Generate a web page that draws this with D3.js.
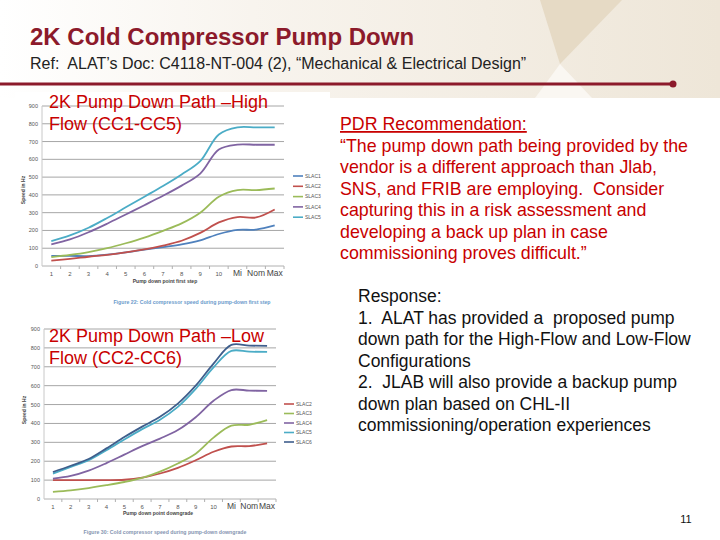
<!DOCTYPE html>
<html>
<head>
<meta charset="utf-8">
<script src="https://cdn.jsdelivr.net/npm/d3@7"></script>
<style>
  html, body { margin: 0; padding: 0; background: #fff; }
  svg { display: block; font-family: "Liberation Sans", Arial, sans-serif; }
  svg text { white-space: pre; }
</style>
</head>
<body>
<div id="slide"></div>
<script>
// Categories on both x axes
const categories = ["1", "2", "3", "4", "5", "6", "7", "8", "9", "10", "Mi", "Nom", "Max"]
const yTicks = [0, 100, 200, 300, 400, 500, 600, 700, 800, 900]

// High flow path (CC1-CC5), speed in Hz
const highNames = ["SLAC1", "SLAC2", "SLAC3", "SLAC4", "SLAC5"]
const highSlac1 = [57, 57, 56, 64, 77, 92, 106, 121, 144, 180, 203, 205, 228]
const highSlac2 = [30, 40, 52, 63, 77, 93, 115, 142, 186, 245, 275, 273, 318]
const highSlac3 = [50, 62, 78, 100, 128, 160, 198, 240, 300, 390, 427, 427, 436]
const highSlac4 = [122, 150, 190, 238, 290, 342, 395, 452, 520, 655, 683, 682, 682]
const highSlac5 = [140, 172, 215, 270, 330, 390, 450, 515, 590, 740, 780, 780, 780]

// Low flow path (CC2-CC6), speed in Hz
const lowNames = ["SLAC2", "SLAC3", "SLAC4", "SLAC5", "SLAC6"]
const lowSlac2 = [100, 100, 100, 100, 102, 113, 135, 165, 205, 250, 278, 280, 295]
const lowSlac3 = [38, 46, 58, 73, 90, 112, 145, 188, 240, 325, 388, 393, 418]
const lowSlac4 = [108, 122, 150, 190, 235, 280, 320, 365, 433, 520, 577, 574, 572]
const lowSlac5 = [134, 170, 205, 258, 315, 370, 420, 488, 583, 697, 784, 780, 779]
const lowSlac6 = [143, 176, 212, 268, 328, 383, 435, 505, 600, 717, 816, 812, 811]

const pdrLines = [
  "\u201CThe pump down path being provided by the",
  "vendor is a different approach than Jlab,",
  "SNS, and FRIB are employing.  Consider",
  "capturing this in a risk assessment and",
  "developing a back up plan in case",
  "commissioning proves difficult.\u201D"
]
const responseLines = [
  "Response:",
  "1.  ALAT has provided a  proposed pump",
  "down path for the High-Flow and Low-Flow",
  "Configurations",
  "2.  JLAB will also provide a backup pump",
  "down plan based on CHL-II",
  "commissioning/operation experiences"
]

const colors = {
  SLAC1: "#4F81BD",
  SLAC2: "#C0504D",
  SLAC3: "#9BBB59",
  SLAC4: "#8064A2",
  SLAC5: "#4BACC6",
  SLAC6: "#3E5E8C"
}
const darkRed = "#8C1A2B"
const brightRed = "#C80000"

const svg = d3.select("#slide").append("svg")
  .attr("width", 720)
  .attr("height", 540)

// Header background
const defs = svg.append("defs")
const grad = defs.append("linearGradient").attr("id", "hdr")
  .attr("x1", "0%").attr("x2", "100%").attr("y1", "0%").attr("y2", "0%")
grad.append("stop").attr("offset", "0%").attr("stop-color", "#ffffff")
grad.append("stop").attr("offset", "35%").attr("stop-color", "#f8f4ee")
grad.append("stop").attr("offset", "100%").attr("stop-color", "#eee6d8")

svg.append("rect").attr("width", 720).attr("height", 98).attr("fill", "url(#hdr)")
svg.append("path").attr("d", "M540,0 L622,0 L560,64 Z").attr("fill", "#e6dac5")
svg.append("path").attr("d", "M560,64 L535,98 L592,98 Z").attr("fill", "#faf7f2")

svg.append("text")
  .attr("x", 30).attr("y", 45)
  .attr("font-size", 24).attr("font-weight", "bold")
  .attr("fill", darkRed)
  .text("2K Cold Compressor Pump Down")

svg.append("text")
  .attr("x", 30).attr("y", 69)
  .attr("font-size", 16)
  .attr("fill", "#222")
  .text("Ref:  ALAT\u2019s Doc: C4118-NT-004 (2), \u201CMechanical & Electrical Design\u201D")

svg.append("line")
  .attr("x1", 0).attr("x2", 673).attr("y1", 84).attr("y2", 84)
  .attr("stroke", darkRed).attr("stroke-width", 3)
svg.append("circle").attr("cx", 673).attr("cy", 84).attr("r", 3.5).attr("fill", darkRed)

// Chart drawing
function drawChart(cfg) {
  const g = svg.append("g")

  g.append("rect")
    .attr("x", cfg.box[0]).attr("y", cfg.box[1])
    .attr("width", cfg.box[2]).attr("height", cfg.box[3])
    .attr("fill", "#fff")

  const x = d3.scaleBand().domain(categories).range([cfg.left, cfg.right])
  const y = d3.scaleLinear().domain([0, 900]).range([cfg.bottom, cfg.top])

  // Gridlines
  g.selectAll("line.grid")
    .data(yTicks.filter((d) => d > 0))
    .enter()
    .append("line")
    .attr("class", "grid")
    .attr("x1", cfg.left).attr("x2", cfg.right)
    .attr("y1", (d) => y(d)).attr("y2", (d) => y(d))
    .attr("stroke", "#a6a6a6").attr("stroke-width", 1)

  // Axes lines
  g.append("line")
    .attr("x1", cfg.left).attr("x2", cfg.right)
    .attr("y1", cfg.bottom).attr("y2", cfg.bottom)
    .attr("stroke", "#b0b0b0")
  g.append("line")
    .attr("x1", cfg.left).attr("x2", cfg.left)
    .attr("y1", cfg.top).attr("y2", cfg.bottom)
    .attr("stroke", "#c8c8c8")

  // Category tick marks between bands
  g.selectAll("line.xt")
    .data(categories)
    .enter()
    .append("line")
    .attr("class", "xt")
    .attr("x1", (d) => x(d) + x.bandwidth()).attr("x2", (d) => x(d) + x.bandwidth())
    .attr("y1", cfg.bottom).attr("y2", cfg.bottom + 3)
    .attr("stroke", "#b0b0b0")

  // Y labels
  g.selectAll("text.yl")
    .data(yTicks)
    .enter()
    .append("text")
    .attr("class", "yl")
    .attr("x", cfg.left - 4)
    .attr("y", (d) => y(d) + 2)
    .attr("text-anchor", "end")
    .attr("font-size", 5.5)
    .attr("fill", "#555")
    .text((d) => d)

  // X labels
  g.selectAll("text.xl")
    .data(categories)
    .enter()
    .append("text")
    .attr("class", "xl")
    .attr("x", (d) => x(d) + x.bandwidth() / 2)
    .attr("y", cfg.bottom + 10)
    .attr("text-anchor", "middle")
    .attr("font-size", (d) => (isNaN(+d) ? 8.5 : 6))
    .attr("fill", (d) => (isNaN(+d) ? "#444" : "#555"))
    .text((d) => d)

  // Series lines
  const line = d3.line()
    .x((d, i) => x(categories[i]) + x.bandwidth() / 2)
    .y((d) => y(d))
    .curve(d3.curveCatmullRom.alpha(0.5))

  cfg.series.forEach((s) => {
    g.append("path")
      .attr("d", line(s.values))
      .attr("fill", "none")
      .attr("stroke", colors[s.name])
      .attr("stroke-width", 1.8)
  })

  // Legend
  cfg.series.forEach((s, i) => {
    const ly = cfg.legend[1] + i * cfg.legend[2]
    g.append("line")
      .attr("x1", cfg.legend[0]).attr("x2", cfg.legend[0] + 10)
      .attr("y1", ly).attr("y2", ly)
      .attr("stroke", colors[s.name]).attr("stroke-width", 1.6)
    g.append("text")
      .attr("x", cfg.legend[0] + 12).attr("y", ly + 1.8)
      .attr("font-size", 5).attr("fill", "#555")
      .text(s.name)
  })

  // Axis titles
  g.append("text")
    .attr("transform", `translate(${cfg.yTitle[0]},${cfg.yTitle[1]}) rotate(-90)`)
    .attr("text-anchor", "middle")
    .attr("font-size", 5).attr("font-weight", "bold").attr("fill", "#444")
    .text("Speed in Hz")
  g.append("text")
    .attr("x", cfg.xTitle[0]).attr("y", cfg.xTitle[1])
    .attr("text-anchor", "middle")
    .attr("font-size", 5).attr("font-weight", "bold").attr("fill", "#444")
    .text(cfg.xLabel)

  // Caption
  g.append("text")
    .attr("x", cfg.caption[0]).attr("y", cfg.caption[1])
    .attr("text-anchor", "middle")
    .attr("font-size", 5.2).attr("font-weight", "bold").attr("fill", cfg.captionColor)
    .text(cfg.captionText)

  // Overlay title
  cfg.title.forEach((t, i) => {
    g.append("text")
      .attr("x", 49).attr("y", cfg.titleY + i * 21.5)
      .attr("font-size", 18).attr("fill", brightRed)
      .text(t)
  })
}

drawChart({
  box: [15, 92, 315, 218],
  left: 42, right: 284, top: 106, bottom: 266,
  series: [
    { name: "SLAC1", values: highSlac1 },
    { name: "SLAC2", values: highSlac2 },
    { name: "SLAC3", values: highSlac3 },
    { name: "SLAC4", values: highSlac4 },
    { name: "SLAC5", values: highSlac5 }
  ],
  legend: [293, 176, 10.3],
  yTitle: [25, 190],
  xTitle: [165, 283],
  xLabel: "Pump down point first step",
  caption: [192, 304],
  captionColor: "#6a9acb",
  captionText: "Figure 22: Cold compressor speed during pump-down first step",
  title: ["2K Pump Down Path \u2013High", "Flow (CC1-CC5)"],
  titleY: 108
})

drawChart({
  box: [15, 318, 315, 222],
  left: 44, right: 276, top: 329, bottom: 499,
  series: [
    { name: "SLAC2", values: lowSlac2 },
    { name: "SLAC3", values: lowSlac3 },
    { name: "SLAC4", values: lowSlac4 },
    { name: "SLAC5", values: lowSlac5 },
    { name: "SLAC6", values: lowSlac6 }
  ],
  legend: [284, 404, 9.5],
  yTitle: [26, 410],
  xTitle: [158, 515],
  xLabel: "Pump down point downgrade",
  caption: [165, 534],
  captionColor: "#8494b0",
  captionText: "Figure 30: Cold compressor speed during pump-down downgrade",
  title: ["2K Pump Down Path \u2013Low", "Flow (CC2-CC6)"],
  titleY: 342
})

// Right column text
svg.append("text")
  .attr("x", 340).attr("y", 130)
  .attr("font-size", 17.8).attr("fill", brightRed)
  .attr("text-decoration", "underline")
  .text("PDR Recommendation:")

svg.selectAll("text.pdr")
  .data(pdrLines)
  .enter()
  .append("text")
  .attr("class", "pdr")
  .attr("x", 340)
  .attr("y", (d, i) => 151.5 + i * 21.5)
  .attr("font-size", 17.8).attr("fill", brightRed)
  .text((d) => d)

svg.selectAll("text.resp")
  .data(responseLines)
  .enter()
  .append("text")
  .attr("class", "resp")
  .attr("x", 358)
  .attr("y", (d, i) => 302 + i * 21.5)
  .attr("font-size", 17.5).attr("fill", "#111")
  .text((d) => d)

svg.append("text")
  .attr("x", 686).attr("y", 523)
  .attr("text-anchor", "middle")
  .attr("font-size", 11).attr("fill", "#111")
  .text("11")
</script>
</body>
</html>
